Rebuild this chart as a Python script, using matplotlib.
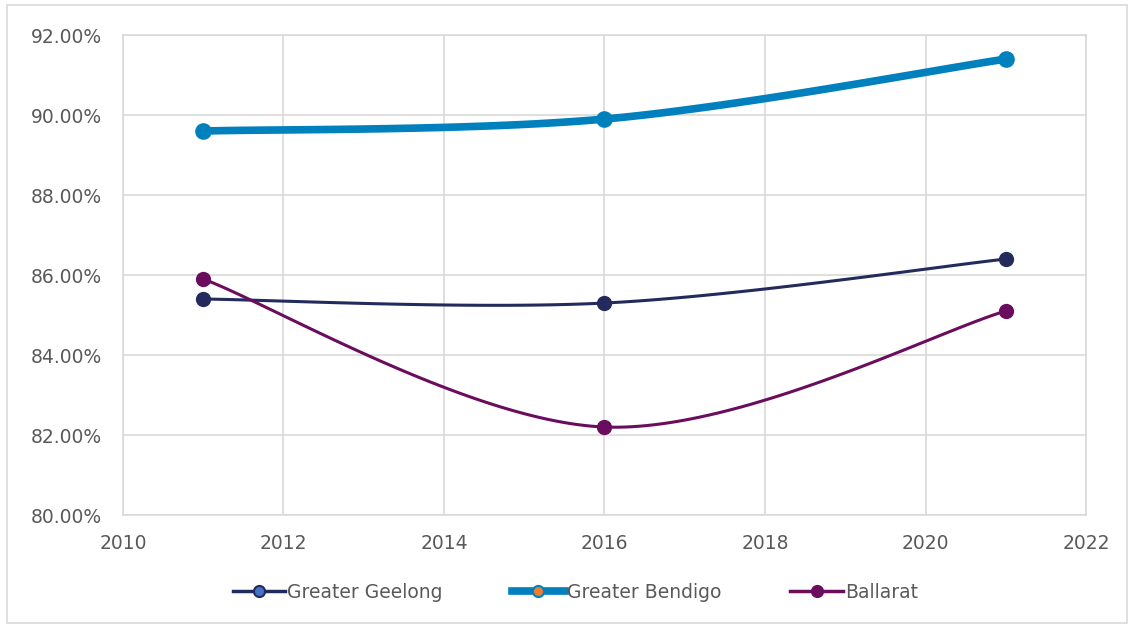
import numpy as np
import matplotlib
matplotlib.use("Agg")
import matplotlib.pyplot as plt
from matplotlib.lines import Line2D
from matplotlib.patches import Rectangle
from matplotlib.ticker import FuncFormatter, MultipleLocator

years = [2011, 2016, 2021]
geelong = [85.4, 85.3, 86.4]
bendigo = [89.6, 89.9, 91.4]
ballarat = [85.9, 82.2, 85.1]

plt.rcParams['font.family'] = ['DejaVu Sans']

def smooth(x, y, n=60):
    # Catmull-Rom style (Excel smoothed line) drawing through the points
    x = np.asarray(x, float); y = np.asarray(y, float)
    px = np.concatenate([[x[0]], x, [x[-1]]])
    py = np.concatenate([[y[0]], y, [y[-1]]])
    xs, ys = [], []
    for i in range(1, len(px) - 2):
        p0 = np.array([px[i-1], py[i-1]]); p1 = np.array([px[i], py[i]])
        p2 = np.array([px[i+1], py[i+1]]); p3 = np.array([px[i+2], py[i+2]])
        c1 = p1 + (p2 - p0) / 6.0
        c2 = p2 - (p3 - p1) / 6.0
        t = np.linspace(0, 1, n)[:, None]
        b = ((1-t)**3)*p1 + 3*((1-t)**2)*t*c1 + 3*(1-t)*t**2*c2 + t**3*p2
        xs.extend(b[:, 0]); ys.extend(b[:, 1])
    return xs, ys

fig = plt.figure(figsize=(11.28, 6.26), dpi=100)
ax = fig.add_axes([0.109, 0.1773, 0.8538, 0.7667])

c_gee = '#232B5C'
c_ben = '#0080BD'
c_bal = '#6A0D5E'

for data, col, lw, ms in [(geelong, c_gee, 2.2, 11), (bendigo, c_ben, 5.5, 12), (ballarat, c_bal, 2.2, 11)]:
    sx, sy = smooth(years, data)
    ax.plot(sx, sy, color=col, lw=lw, solid_capstyle='round', zorder=3)
    ax.plot(years, data, 'o', color=col, ms=ms, zorder=4, markeredgewidth=0)

ax.set_xlim(2010, 2022)
ax.set_ylim(80, 92)
ax.xaxis.set_major_locator(MultipleLocator(2))
ax.yaxis.set_major_locator(MultipleLocator(2))
ax.yaxis.set_major_formatter(FuncFormatter(lambda v, p: f"{v:.2f}%"))
ax.grid(True, color='#d9d9d9', lw=1.2)
ax.set_axisbelow(True)
for s in ax.spines.values():
    s.set_color('#d9d9d9'); s.set_linewidth(1.2)
ax.tick_params(length=0, labelsize=13.5, colors='#595959', pad=15)
ax.tick_params(axis='x', pad=14)

handles = [
    Line2D([0], [0], color=c_gee, lw=2.5, marker='o', ms=8, mfc='#4472C4', mec=c_gee, mew=1.5),
    Line2D([0], [0], color=c_ben, lw=5.5, marker='o', ms=8, mfc='#ED7D31', mec=c_ben, mew=1.5),
    Line2D([0], [0], color=c_bal, lw=2.5, marker='o', ms=8, mfc=c_bal, mec=c_bal, mew=1.5),
]
leg = fig.legend(handles, ['Greater Geelong', 'Greater Bendigo', 'Ballarat'],
                 loc='center', bbox_to_anchor=(0.51, 0.054), ncol=3, frameon=False,
                 fontsize=13.5, handlelength=2.8, handletextpad=0.1, columnspacing=3.7)
for t in leg.get_texts():
    t.set_color('#595959')

fig.patches.append(Rectangle((0.006, 0.005), 0.993, 0.987, transform=fig.transFigure,
                             fill=False, edgecolor='#d9d9d9', lw=1.2))

fig.savefig('out.png', dpi=100)
